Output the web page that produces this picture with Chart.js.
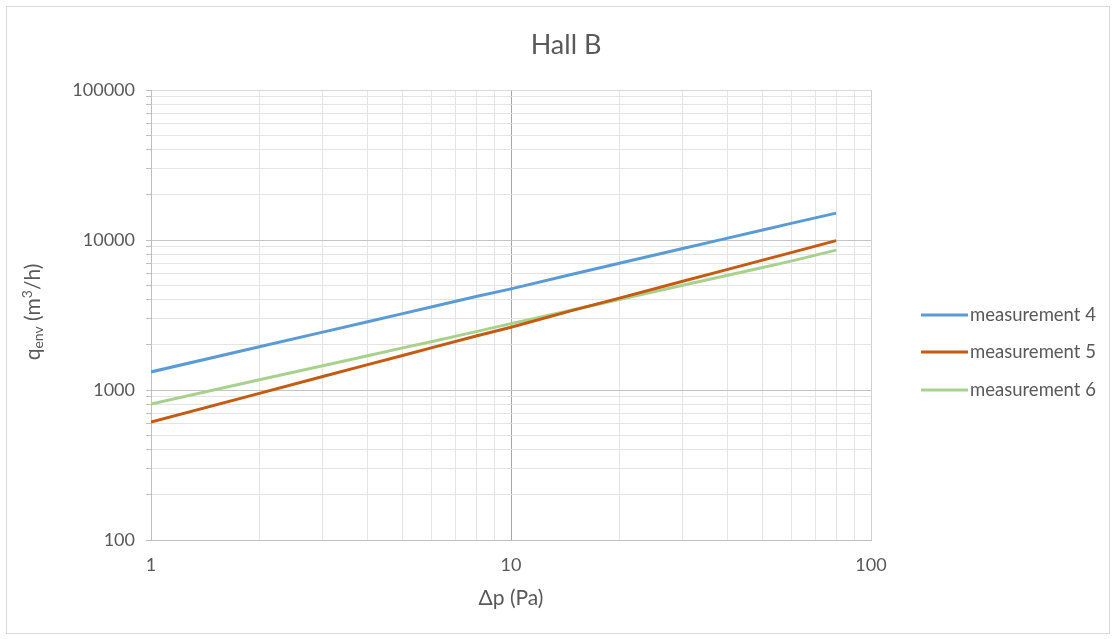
<!DOCTYPE html>
<html>
<head>
<meta charset="utf-8">
<script src="https://cdn.jsdelivr.net/npm/chart.js@4/dist/chart.umd.min.js"></script>
<style>
  html, body { margin: 0; padding: 0; background: #ffffff; }
  #wrap { position: relative; width: 1116px; height: 639px; }
</style>
</head>
<body>
<div id="wrap"><canvas id="c" width="1116" height="639"></canvas></div>
<script>
// ---- data ----
const pressure = [1, 2, 3, 4, 5, 6, 8, 10, 15, 20, 30, 40, 50, 60, 80];
const measurement4 = [1320, 1940, 2430, 2850, 3230, 3580, 4200, 4720, 5960, 7000, 8770, 10290, 11650, 12900, 15100];
const measurement5 = [612, 950, 1230, 1476, 1700, 1910, 2290, 2620, 3420, 4100, 5310, 6370, 7340, 8240, 9900];
const measurement6 = [805, 1170, 1450, 1690, 1910, 2100, 2450, 2770, 3440, 4010, 4990, 5820, 6560, 7230, 8560];
const seriesLabels = ['measurement 4', 'measurement 5', 'measurement 6'];
const xTicks = [1,2,3,4,5,6,7,8,9,10,20,30,40,50,60,70,80,90,100];
const yTicks = [100,200,300,400,500,600,700,800,900,1000,2000,3000,4000,5000,6000,7000,8000,9000,10000,20000,30000,40000,50000,60000,70000,80000,90000,100000];
const chartTitle = 'Hall B';
const xTitle = 'Δp (Pa)';

const colors = ['#5B9BD5', '#C55A11', '#A9D18E'];
const FONT = 'Lato, "Open Sans", sans-serif';
const TXT = '#595959';

function pts(ys) { return pressure.map((x, i) => ({ x: x, y: ys[i] })); }
function isDecade(v) { const l = Math.log10(v); return Math.abs(l - Math.round(l)) < 1e-9; }

const decor = {
  id: 'decor',
  afterDraw(chart) {
    const ctx = chart.ctx;
    ctx.save();
    // outer frame
    ctx.strokeStyle = '#d9d9d9';
    ctx.lineWidth = 1;
    ctx.strokeRect(6.5, 6.5, 1103, 627);
    // chart title
    ctx.fillStyle = TXT;
    ctx.font = '27px ' + FONT;
    ctx.textAlign = 'center';
    ctx.textBaseline = 'middle';
    ctx.fillText(chartTitle, 566, 45);
    // y axis title with subscript / superscript
    ctx.translate(33, 312);
    ctx.rotate(-Math.PI / 2);
    ctx.textBaseline = 'middle';
    const parts = [
      { t: 'q', s: 21, dy: 0 },
      { t: 'env', s: 14, dy: 5 },
      { t: ' (m', s: 21, dy: 0 },
      { t: '3', s: 14, dy: -6 },
      { t: '/h)', s: 21, dy: 0 }
    ];
    let total = 0;
    parts.forEach(p => { ctx.font = p.s + 'px ' + FONT; p.w = ctx.measureText(p.t).width; total += p.w; });
    let x = -total / 2;
    ctx.textAlign = 'left';
    parts.forEach(p => { ctx.font = p.s + 'px ' + FONT; ctx.fillText(p.t, x, p.dy); x += p.w; });
    ctx.restore();

    // legend
    ctx.save();
    const ly = [315, 352, 390];
    chart.data.datasets.forEach((ds, i) => {
      ctx.strokeStyle = ds.borderColor;
      ctx.lineWidth = 3;
      ctx.beginPath();
      ctx.moveTo(921, ly[i]);
      ctx.lineTo(968, ly[i]);
      ctx.stroke();
      ctx.fillStyle = TXT;
      ctx.font = '18.5px ' + FONT;
      ctx.textAlign = 'left';
      ctx.textBaseline = 'middle';
      ctx.fillText(ds.label, 970, ly[i]);
    });
    ctx.restore();
  }
};

new Chart(document.getElementById('c'), {
  type: 'scatter',
  data: {
    datasets: [
      { label: seriesLabels[0], data: pts(measurement4), borderColor: colors[0], backgroundColor: colors[0] },
      { label: seriesLabels[1], data: pts(measurement5), borderColor: colors[1], backgroundColor: colors[1] },
      { label: seriesLabels[2], data: pts(measurement6), borderColor: colors[2], backgroundColor: colors[2] }
    ].map(d => Object.assign(d, { showLine: true, pointRadius: 0, borderWidth: 3, tension: 0 }))
  },
  options: {
    responsive: false,
    animation: false,
    layout: { padding: { left: 0, right: 245, top: 90, bottom: 0 } },
    plugins: {
      legend: { display: false },
      tooltip: { enabled: false },
      title: { display: false }
    },
    scales: {
      x: {
        type: 'logarithmic', min: 1, max: 100,
        afterBuildTicks(s) { s.ticks = xTicks.map(v => ({ value: v })); },
        afterFit(s) { s.height = 99; },
        border: { color: '#bfbfbf', width: 1 },
        grid: {
          drawTicks: false,
          color: c => (c.tick && isDecade(c.tick.value)) ? (c.tick.value === 10 ? '#a6a6a6' : '#d0d0d0') : '#e4e4e4'
        },
        ticks: {
          autoSkip: false, maxRotation: 0, padding: 14, color: TXT,
          font: { family: FONT, size: 18 },
          callback: v => isDecade(v) ? String(v) : ''
        },
        title: {
          display: true, text: xTitle, color: TXT,
          font: { family: FONT, size: 21 },
          padding: { top: 0, bottom: 28 }
        }
      },
      y: {
        type: 'logarithmic', min: 100, max: 100000,
        afterBuildTicks(s) { s.ticks = yTicks.map(v => ({ value: v })); },
        afterFit(s) { s.width = 151; },
        border: { color: '#bfbfbf', width: 1 },
        grid: {
          drawTicks: true, tickLength: 5, tickColor: '#bfbfbf',
          color: c => (c.tick && isDecade(c.tick.value)) ? (c.tick.value === 100000 ? '#d9d9d9' : '#c4c4c4') : '#e4e4e4'
        },
        ticks: {
          autoSkip: false, padding: 11, color: TXT,
          font: { family: FONT, size: 18 },
          callback: v => isDecade(v) ? String(v) : ''
        }
      }
    }
  },
  plugins: [decor]
});
</script>
</body>
</html>
